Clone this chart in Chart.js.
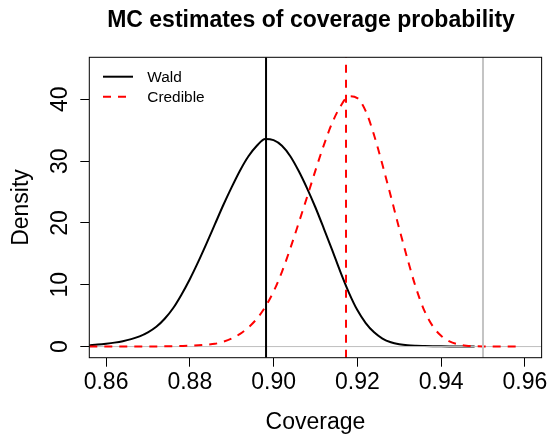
<!DOCTYPE html>
<html>
<head>
<meta charset="utf-8">
<script src="https://cdn.jsdelivr.net/npm/chart.js@4.4.1/dist/chart.umd.min.js"></script>
<style>
html,body{margin:0;padding:0;background:#fff;}
#wrap{width:550px;height:436px;}
</style>
</head>
<body>
<div id="wrap"><canvas id="c" width="550" height="436"></canvas></div>
<script>
// ---- data ----
const chartTitle = 'MC estimates of coverage probability';
const xLabel = 'Coverage';
const yLabel = 'Density';
const seriesNames = ['Wald', 'Credible'];

const coverageGrid = [
  0.856, 0.858, 0.860, 0.862, 0.864, 0.866, 0.868, 0.870, 0.872, 0.874,
  0.876, 0.878, 0.880, 0.882, 0.884, 0.886, 0.888, 0.890, 0.892, 0.894,
  0.896, 0.898, 0.900, 0.902, 0.904, 0.906, 0.908, 0.910, 0.912, 0.914,
  0.916, 0.918, 0.920, 0.922, 0.924, 0.926, 0.928, 0.930, 0.932, 0.934,
  0.936, 0.938, 0.940, 0.942, 0.944, 0.946, 0.948, 0.950, 0.952, 0.954,
  0.956, 0.958, 0.960
];
const waldDensity = [
  0.22, 0.33, 0.47, 0.64, 0.87, 1.2, 1.65, 2.3, 3.2, 4.5,
  6.2, 8.4, 10.9, 13.7, 16.7, 19.8, 22.9, 25.8, 28.5, 30.8,
  32.5, 33.6, 33.4, 32.5, 30.8, 28.4, 25.6, 22.5, 19.1, 15.6,
  12.0, 8.7, 5.9, 3.8, 2.3, 1.3, 0.7, 0.38, 0.2, 0.12,
  0.08, 0.05, 0.04, 0.03, 0.02, 0.01, 0.0, null, null, null,
  null, null, null
];
const credibleDensity = [
  0.0, 0.0, 0.0, 0.0, 0.0, 0.01, 0.01, 0.02, 0.03, 0.04,
  0.06, 0.09, 0.13, 0.2, 0.3, 0.45, 0.78, 1.3, 2.05, 3.1,
  4.5, 6.4, 8.9, 12.1, 15.9, 20.0, 24.2, 28.5, 32.6, 36.2,
  38.9, 40.5, 40.2, 38.1, 34.2, 29.4, 24.3, 19.1, 14.1, 9.5,
  5.8, 3.3, 1.75, 0.85, 0.38, 0.15, 0.06, 0.02, 0.01, 0.0,
  0.0, 0.0, null
];
const waldMean = 0.8982;
const credibleMean = 0.9173;
const nominalLevel = 0.95;

const xTicks = [0.86, 0.88, 0.90, 0.92, 0.94, 0.96];
const yTicks = [0, 10, 20, 30, 40];
const xLimits = [0.856, 0.964];
const yLimits = [-1.8, 46.8];

// ---- build chart ----
const FONT = '"Liberation Sans", Arial, Helvetica, sans-serif';

function curve(values) {
  return coverageGrid.map((x, i) => ({x: x, y: values[i]})).filter(p => p.y !== null);
}
function vline(x) {
  return [{x: x, y: yLimits[0]}, {x: x, y: yLimits[1]}];
}

const datasets = [
  {label: seriesNames[0], data: curve(waldDensity), borderColor: '#000000', borderWidth: 2,
   showLine: true, pointRadius: 0, cubicInterpolationMode: 'monotone', order: 6},
  {label: seriesNames[1], data: curve(credibleDensity), borderColor: '#ff0000', borderWidth: 2,
   borderDash: [8, 7], showLine: true, pointRadius: 0, cubicInterpolationMode: 'monotone', order: 4},
  {label: 'zero', data: [{x: xLimits[0], y: 0}, {x: xLimits[1], y: 0}], borderColor: '#bebebe',
   borderWidth: 1, showLine: true, pointRadius: 0, order: 5},
  {label: 'waldMean', data: vline(waldMean), borderColor: '#000000', borderWidth: 2,
   showLine: true, pointRadius: 0, order: 3},
  {label: 'credibleMean', data: vline(credibleMean), borderColor: '#ff0000', borderWidth: 2,
   borderDash: [8, 7], showLine: true, pointRadius: 0, order: 2},
  {label: 'nominal', data: vline(nominalLevel), borderColor: '#c4c4c4', borderWidth: 2,
   showLine: true, pointRadius: 0, order: 1}
];

const decorations = {
  id: 'decorations',
  afterDatasetsDraw(chart) {
    const ctx = chart.ctx;
    const a = chart.chartArea;
    ctx.save();
    // plot box
    ctx.strokeStyle = '#000';
    ctx.lineWidth = 1;
    ctx.setLineDash([]);
    ctx.strokeRect(a.left, a.top, a.right - a.left, a.bottom - a.top);
    // title
    ctx.fillStyle = '#000';
    ctx.font = 'bold 23px ' + FONT;
    ctx.textAlign = 'center';
    ctx.textBaseline = 'alphabetic';
    ctx.fillText(chartTitle, 311, 26.7);
    // legend (top-left, no box)
    ctx.font = '15.4px ' + FONT;
    ctx.textAlign = 'left';
    ctx.textBaseline = 'alphabetic';
    [0, 1].forEach((k) => {
      const ds = chart.data.datasets[k];
      const y = a.top + 19.4 + k * 20;
      ctx.strokeStyle = ds.borderColor;
      ctx.lineWidth = 2;
      ctx.setLineDash(ds.borderDash || []);
      ctx.beginPath();
      ctx.moveTo(a.left + 13.7, y);
      ctx.lineTo(a.left + 43.7, y);
      ctx.stroke();
      ctx.setLineDash([]);
      ctx.fillStyle = '#000';
      ctx.fillText(ds.label, a.left + 58, y + 5.5);
    });
    ctx.restore();
  }
};

new Chart(document.getElementById('c'), {
  type: 'scatter',
  data: {datasets: datasets},
  options: {
    responsive: false,
    animation: false,
    devicePixelRatio: 1,
    layout: {padding: {left: 0, right: 6.7, top: 57.3, bottom: 0}},
    plugins: {
      legend: {display: false},
      tooltip: {enabled: false},
      title: {display: false}
    },
    elements: {point: {radius: 0}, line: {tension: 0}},
    scales: {
      x: {
        type: 'linear',
        min: xLimits[0],
        max: xLimits[1],
        afterBuildTicks: (s) => { s.ticks = xTicks.map(v => ({value: v})); },
        afterFit: (s) => { s.height = 78.3; },
        ticks: {
          autoSkip: false, minRotation: 0, maxRotation: 0, color: '#000', padding: 2.5,
          font: {family: FONT, size: 23},
          callback: (v) => Number(v).toFixed(2)
        },
        grid: {display: true, drawOnChartArea: false, drawTicks: true, tickLength: 9,
               tickColor: '#000', tickWidth: 1},
        border: {display: false},
        title: {display: true, text: xLabel, color: '#000',
                font: {family: FONT, size: 23, lineHeight: 1.15}, padding: {top: 0, bottom: 0}}
      },
      y: {
        type: 'linear',
        min: yLimits[0],
        max: yLimits[1],
        afterBuildTicks: (s) => { s.ticks = yTicks.map(v => ({value: v})); },
        afterFit: (s) => { s.width = 89.3; },
        ticks: {
          autoSkip: false, minRotation: 90, maxRotation: 90, crossAlign: 'center',
          color: '#000', padding: 6.7, font: {family: FONT, size: 23},
          callback: (v) => String(v)
        },
        grid: {display: true, drawOnChartArea: false, drawTicks: true, tickLength: 9,
               tickColor: '#000', tickWidth: 1},
        border: {display: false},
        title: {display: true, text: yLabel, color: '#000',
                font: {family: FONT, size: 23, lineHeight: 1.2}, padding: {top: 7.5, bottom: 0}}
      }
    }
  },
  plugins: [decorations]
});
</script>
</body>
</html>
